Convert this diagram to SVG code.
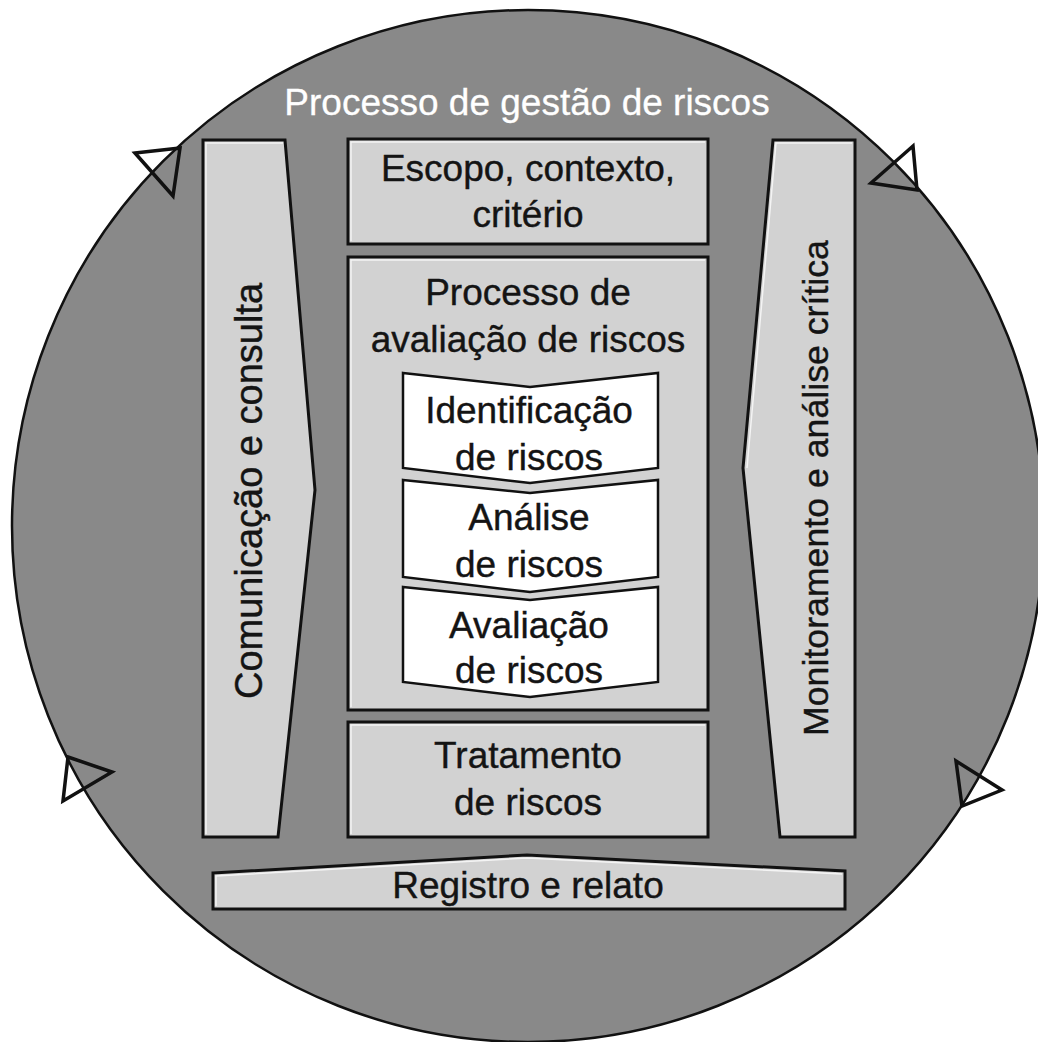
<svg xmlns="http://www.w3.org/2000/svg" width="1038" height="1042" viewBox="0 0 1038 1042">
  <style>
    .panel { fill: #d2d2d2; stroke: #111; stroke-width: 3; stroke-linejoin: miter; }
    .hl { fill: none; stroke: #f4f4f4; stroke-width: 1.5; }
    .chev { fill: #ffffff; stroke: #111; stroke-width: 2.5; stroke-linejoin: miter; }
    .arrow { fill: none; stroke: #111; stroke-width: 3.5; stroke-linejoin: miter; }
    text { font-family: "Liberation Sans", Arial, sans-serif; font-size: 37px; fill: #141414; stroke: #141414; stroke-width: 0.4; text-anchor: middle; }
    .title { fill: #ffffff; stroke: #ffffff; stroke-width: 0.3; }
  </style>
  <rect width="1038" height="1042" fill="#ffffff"/>
  <g id="cycle">
    <circle cx="528" cy="526" r="516" fill="#898989" stroke="#111" stroke-width="2.5"/>
    <text class="title" x="527" y="115">Processo de gestão de riscos</text>
  </g>
  <g id="connectors">
    <polygon class="arrow" points="135,153 180,148 173,196"/>
    <polygon class="arrow" points="871,183 913,146 917,190"/>
    <polygon class="arrow" points="68,757 112,772 63,801"/>
    <polygon class="arrow" points="956,761 1002,790 962,806"/>
  </g>
  <g id="comunicacao">
    <polygon class="panel" points="203,140 285,140 315,490 278,837 203,837"/>
    <polyline class="hl" points="206,834 206,143 283,143"/>
    <text transform="translate(262,491) rotate(-90)" style="font-size:38px">Comunicação e consulta</text>
  </g>
  <g id="monitoramento">
    <polygon class="panel" points="773,140 855,140 855,837 780,837 743,468"/>
    <polyline class="hl" points="747,468 776,143 852,143"/>
    <text transform="translate(828,488) rotate(-90)" style="font-size:35.7px">Monitoramento e análise crítica</text>
  </g>
  <g id="escopo">
    <rect class="panel" x="348" y="139" width="360" height="105"/>
    <polyline class="hl" points="351,241 351,142 705,142"/>
    <text x="528" y="181">Escopo, contexto,</text>
    <text x="528" y="227">critério</text>
  </g>
  <g id="avaliacao">
    <rect class="panel" x="348" y="257" width="360" height="453"/>
    <polyline class="hl" points="351,707 351,260 705,260"/>
    <text x="528" y="305">Processo de</text>
    <text x="528" y="352">avaliação de riscos</text>
  </g>
  <g id="identificacao">
    <polygon class="chev" points="403,373 530,387 658,373 658,468 530,483 403,468"/>
    <text x="529" y="423">Identificação</text>
    <text x="529" y="470">de riscos</text>
  </g>
  <g id="analise">
    <polygon class="chev" points="403,480 530,493 658,480 658,577 530,592 403,577"/>
    <text x="529" y="530">Análise</text>
    <text x="529" y="577">de riscos</text>
  </g>
  <g id="avaliacao-riscos">
    <polygon class="chev" points="403,587 530,600 658,587 658,682 530,697 403,682"/>
    <text x="529" y="638">Avaliação</text>
    <text x="529" y="683">de riscos</text>
  </g>
  <g id="tratamento">
    <rect class="panel" x="348" y="722" width="360" height="115"/>
    <polyline class="hl" points="351,834 351,725 705,725"/>
    <text x="528" y="768">Tratamento</text>
    <text x="528" y="815">de riscos</text>
  </g>
  <g id="registro">
    <polygon class="panel" points="213,873 527,855 845,871 845,909 213,909"/>
    <polyline class="hl" points="216,906 216,876 527,858 842,874"/>
    <text x="528" y="898">Registro e relato</text>
  </g>
</svg>
